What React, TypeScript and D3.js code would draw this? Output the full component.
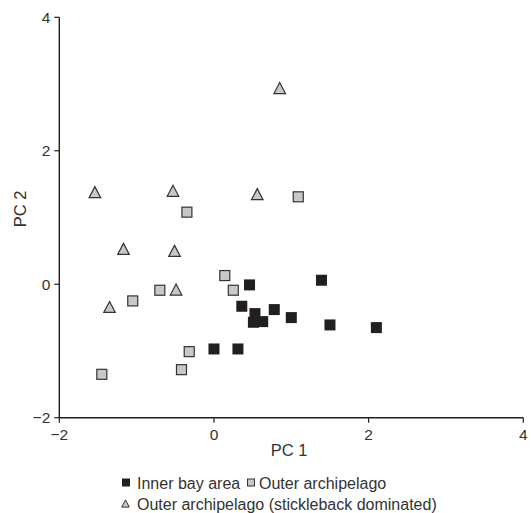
import React from 'react';
import * as d3 from 'd3';

// PCA scores
const innerBay = [
  [0.0, -0.97], [0.31, -0.97], [0.46, -0.01], [1.39, 0.06], [0.36, -0.33],
  [0.53, -0.44], [0.51, -0.57], [0.63, -0.56], [0.78, -0.38], [1.0, -0.5],
  [1.5, -0.61], [2.1, -0.65],
];
const outerArch = [
  [-0.35, 1.08], [-0.7, -0.09], [-1.05, -0.25], [-1.45, -1.35], [-0.32, -1.01],
  [-0.42, -1.28], [1.09, 1.31], [0.14, 0.13], [0.25, -0.09],
];
const stickleback = [
  [-1.54, 1.38], [-0.53, 1.4], [-1.17, 0.53], [-0.51, 0.5], [-0.49, -0.08],
  [-1.35, -0.34], [0.56, 1.35], [0.85, 2.94],
];
const xTicks = [-2, 0, 2, 4];
const yTicks = [-2, 0, 2, 4];
const legendRow1 = ['Inner bay area', 'Outer archipelago'];
const legendRow2 = ['Outer archipelago (stickleback dominated)'];

const W = 532, H = 513;
const ink = '#231f20';
const grey = '#c8c8c8';
const font = 'Liberation Sans, Arial, Helvetica, sans-serif';

const x = d3.scaleLinear().domain([-2, 4]).range([59.3, 523.3]);
const y = d3.scaleLinear().domain([-2, 4]).range([417.7, 17.3]);

const tri = (s: number) => `M0,${-s} L${s * 1.05},${s} L${-s * 1.05},${s} Z`;
const fmt = (t: number) => (t < 0 ? '\u2212' + Math.abs(t) : String(t));

export default function App() {
  const [x0, x1] = x.range();
  const [y0, y1] = y.range();
  return (
    <svg width={W} height={H} style={{ position: 'absolute', left: 0, top: 0, background: '#fff' }}
      fontFamily={font}>
      {/* axes */}
      <line x1={x0} x2={x1} y1={y0} y2={y0} stroke={ink} strokeWidth={1.4} />
      <line x1={x0} x2={x0} y1={y0} y2={y1} stroke={ink} strokeWidth={1.4} />
      {xTicks.map(t => (
        <g key={'x' + t} transform={`translate(${x(t)},${y0})`}>
          <line y2={5} stroke={ink} strokeWidth={1.2} />
          <text y={22.5} textAnchor="middle" fontSize={15.5} fill="#333">{fmt(t)}</text>
        </g>
      ))}
      {yTicks.map(t => (
        <g key={'y' + t} transform={`translate(${x0},${y(t)})`}>
          <line x2={-5} stroke={ink} strokeWidth={1.2} />
          <text x={-9} dy="0.36em" textAnchor="end" fontSize={15.5} fill="#333">{fmt(t)}</text>
        </g>
      ))}
      <text x={289} y={456} textAnchor="middle" fontSize={16.5} fill="#333">PC 1</text>
      <text transform="translate(26,209) rotate(-90)" textAnchor="middle" fontSize={16.5} fill="#333">PC 2</text>

      {/* points */}
      {outerArch.map((d, i) => (
        <rect key={'o' + i} x={x(d[0]) - 5} y={y(d[1]) - 5} width={10} height={10}
          fill={grey} stroke="#333" strokeWidth={1.2} />
      ))}
      {stickleback.map((d, i) => (
        <path key={'s' + i} d={tri(5.5)} transform={`translate(${x(d[0])},${y(d[1])})`}
          fill={grey} stroke="#333" strokeWidth={1.2} />
      ))}
      {innerBay.map((d, i) => (
        <rect key={'i' + i} x={x(d[0]) - 5.5} y={y(d[1]) - 5.5} width={11} height={11} fill={ink} />
      ))}

      {/* legend */}
      <g fontSize={16} fill="#333">
        <rect x={122} y={478.5} width={8} height={8} fill={ink} />
        <text x={137} y={488.5}>{legendRow1[0]}</text>
        <rect x={247.5} y={479} width={7} height={7} fill={grey} stroke="#333" strokeWidth={1} />
        <text x={259} y={488.5}>{legendRow1[1]}</text>
        <path d={tri(3.6)} transform="translate(125.5,503.5)" fill={grey} stroke="#333" strokeWidth={1} />
        <text x={137} y={509.5}>{legendRow2[0]}</text>
      </g>
    </svg>
  );
}
